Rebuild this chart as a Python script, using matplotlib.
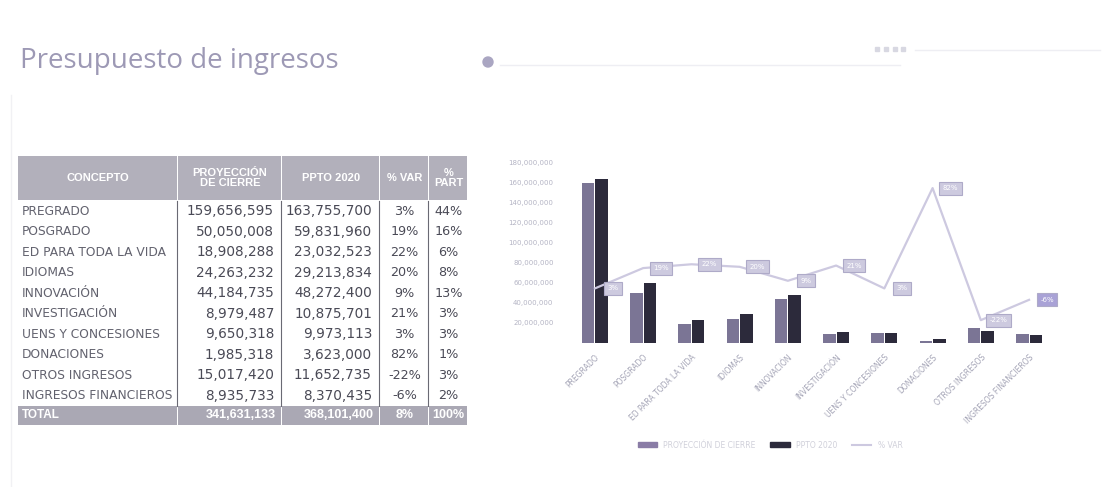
import matplotlib
matplotlib.use("Agg")
import matplotlib.pyplot as plt
from matplotlib.patches import Rectangle, Circle
from matplotlib.lines import Line2D
from matplotlib.ticker import FuncFormatter

# ---------------- data ----------------
categories = ["PREGRADO", "POSGRADO", "ED PARA TODA LA VIDA", "IDIOMAS", "INNOVACIÓN",
              "INVESTIGACIÓN", "UENS Y CONCESIONES", "DONACIONES", "OTROS INGRESOS",
              "INGRESOS FINANCIEROS"]
proyeccion = [159656595, 50050008, 18908288, 24263232, 44184735,
              8979487, 9650318, 1985318, 15017420, 8935733]
ppto_2020 = [163755700, 59831960, 23032523, 29213834, 48272400,
             10875701, 9973113, 3623000, 11652735, 8370435]
pct_var = [3, 19, 22, 20, 9, 21, 3, 82, -22, -6]
pct_part = [44, 16, 6, 8, 13, 3, 3, 1, 3, 2]
total_row = ["TOTAL", "341,631,133", "368,101,400", "8%", "100%"]
headers = ["CONCEPTO", "PROYECCIÓN\nDE CIERRE", "PPTO 2020", "% VAR", "%\nPART"]
yticks_vals = [20e6, 40e6, 60e6, 80e6, 100e6, 120e6, 140e6, 160e6, 180e6]
series_names = ["PROYECCIÓN DE CIERRE", "PPTO 2020", "% VAR"]
title = "Presupuesto de ingresos"

W, H = 1110, 487
fig = plt.figure(figsize=(W / 100, H / 100), dpi=100)
fig.patch.set_facecolor("white")

# overlay axes in pixel coordinates for slide elements / table
ov = fig.add_axes([0, 0, 1, 1])
ov.set_xlim(0, W)
ov.set_ylim(H, 0)
ov.axis("off")

ov.text(20, 61, title, fontsize=20, color="#9d99b5", family="Open Sans",
        va="center", ha="left")
ov.add_patch(Circle((488, 62), 5, color="#aaa6c2"))
ov.plot([500, 900], [65, 65], color="#eeeef3", lw=1)
ov.plot([915, 1100], [50, 50], color="#eeeef3", lw=1)
for xs in [877, 886, 895, 903]:
    ov.add_patch(Rectangle((xs - 2, 47), 4, 4, color="#d8d8e2"))
ov.plot([11, 11], [95, 487], color="#f1f1f4", lw=1)

# ---------------- table ----------------
col_x = [18, 178, 282, 380, 429, 468]
head_top, head_bot = 156, 200
row_h = 20.5
n = len(categories)
body_top = head_bot + 1
total_top = body_top + n * row_h
total_bot = total_top + 19

hdr_col = "#b2b0bb"
for i in range(5):
    ov.add_patch(Rectangle((col_x[i], head_top), col_x[i + 1] - col_x[i] - 1.5,
                           head_bot - head_top, color=hdr_col, lw=0))
    ov.add_patch(Rectangle((col_x[i], total_top), col_x[i + 1] - col_x[i] - 1.5,
                           total_bot - total_top, color="#aaa8b4", lw=0))
    cx = (col_x[i] + col_x[i + 1]) / 2
    ov.text(cx, (head_top + head_bot) / 2, headers[i], color="white", fontsize=8,
            fontweight="bold", ha="center", va="center", family="Liberation Sans",
            linespacing=1.0)

for c in col_x[1:5]:
    ov.plot([c - 1, c - 1], [body_top, total_top], color="#6a6a74", lw=0.8)

def fmt(v):
    return f"{v:,.0f}"

num_col = "#4a4a56"
lab_col = "#62626e"
for r in range(n):
    yc = body_top + (r + 0.5) * row_h
    ov.text(22, yc, categories[r], fontsize=8.8, color=lab_col, ha="left", va="center",
            family="DejaVu Sans", clip_on=True)
    ov.text(col_x[2] - 8, yc, fmt(proyeccion[r]), fontsize=9.8, color=num_col,
            ha="right", va="center", family="DejaVu Sans")
    ov.text(col_x[3] - 8, yc, fmt(ppto_2020[r]), fontsize=9.8, color=num_col,
            ha="right", va="center", family="DejaVu Sans")
    ov.text((col_x[3] + col_x[4]) / 2, yc, f"{pct_var[r]}%", fontsize=9.2, color=num_col,
            ha="center", va="center", family="DejaVu Sans")
    ov.text((col_x[4] + col_x[5]) / 2, yc, f"{pct_part[r]}%", fontsize=9.2, color=num_col,
            ha="center", va="center", family="DejaVu Sans")

ty = (total_top + total_bot) / 2
ov.text(22, ty, total_row[0], color="white", fontsize=8.5, fontweight="bold",
        ha="left", va="center", family="Liberation Sans")
for i in range(1, 5):
    if i < 3:
        ov.text(col_x[i + 1] - 6, ty, total_row[i], color="white", fontsize=9,
                fontweight="bold", ha="right", va="center", family="Liberation Sans")
    else:
        ov.text((col_x[i] + col_x[i + 1]) / 2, ty, total_row[i], color="white", fontsize=9,
                fontweight="bold", ha="center", va="center", family="Liberation Sans")

# ---------------- chart ----------------
left, right, top, bottom = 566, 1058, 143, 343
ax = fig.add_axes([left / W, 1 - bottom / H, (right - left) / W, (bottom - top) / H])
ax.set_facecolor("none")
x = list(range(n))
bw = 0.26
off = 0.14
c1, c2 = "#7b7595", "#2c2a3b"
ax.bar([i - off for i in x], proyeccion, width=bw, color=c1, label=series_names[0])
ax.bar([i + off for i in x], ppto_2020, width=bw, color=c2, label=series_names[1])
ax.set_xlim(-0.6, n - 0.4)
ax.set_ylim(0, 200e6)
ax.set_yticks(yticks_vals)
ax.yaxis.set_major_formatter(FuncFormatter(lambda v, p: f"{v:,.0f}"))
ax.tick_params(axis="y", length=0, pad=9, labelsize=5, labelcolor="#b4b4c4")
ax.set_xticks(x)
ax.set_xticklabels(categories, rotation=45, ha="right", rotation_mode="anchor",
                   fontsize=5.5, color="#a4a4b6")
ax.tick_params(axis="x", length=0, pad=7)
for s in ax.spines.values():
    s.set_visible(False)

ax2 = ax.twinx()
line_col = "#cdc9e0"
ax2.plot(x, pct_var, color=line_col, lw=1.6, label=series_names[2])
ax2.set_ylim(-40, 117.5)
ax2.set_yticks([])
for s in ax2.spines.values():
    s.set_visible(False)
for i, v in enumerate(pct_var):
    fc = "#a9a2d6" if i == n - 1 else "#cdcadf"
    ax2.annotate(f"{v}%", (i, v), xytext=(18, 0), textcoords="offset pixels",
                 ha="center", va="center", fontsize=5, color="white",
                 bbox=dict(boxstyle="square,pad=0.5", fc=fc, ec="#aeaac8", lw=0.8))

handles = [Rectangle((0, 0), 1, 1, color="#8a7ca6"), Rectangle((0, 0), 1, 1, color=c2),
           Line2D([0], [0], color=line_col, lw=1.5)]
leg = fig.legend(handles, series_names, loc="center", bbox_to_anchor=(770 / W, 1 - 445 / H),
                 ncol=3, frameon=False, fontsize=5.5, handlelength=2.5, handleheight=0.6,
                 columnspacing=2.0)
for t in leg.get_texts():
    t.set_color("#d0d0da")

fig.savefig("out.png", dpi=100, facecolor="white")
